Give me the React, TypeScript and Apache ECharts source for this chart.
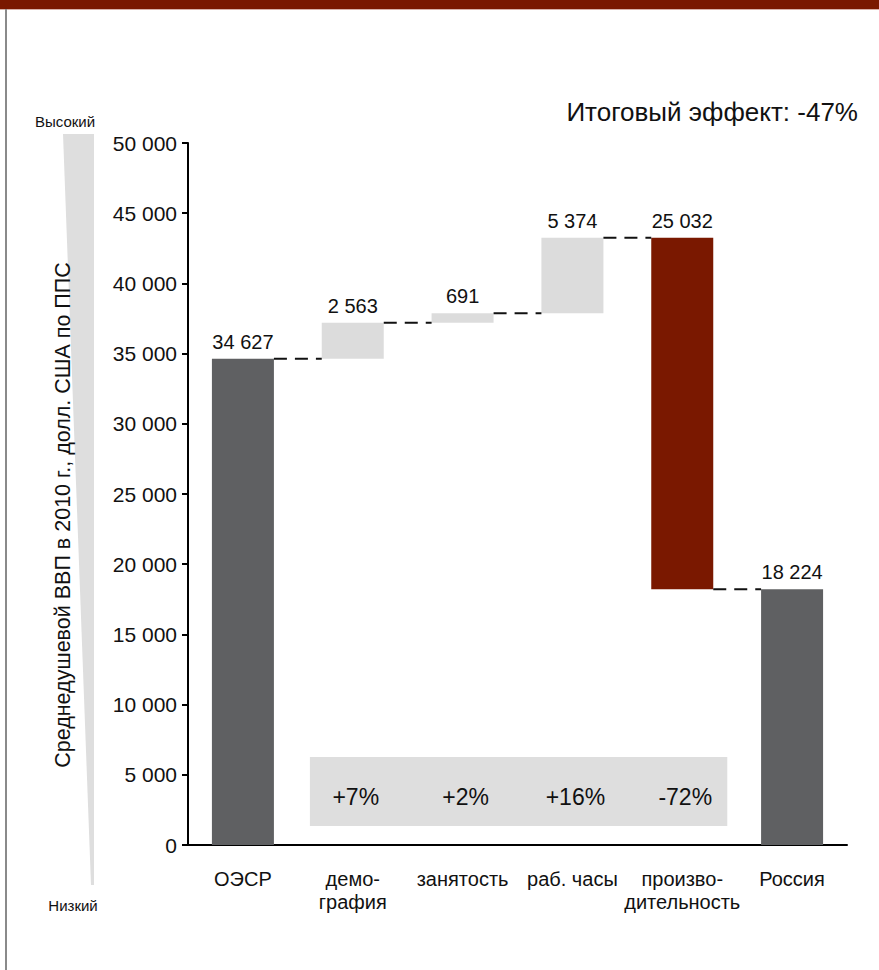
import React, { useEffect, useRef } from "react";
import * as echarts from "echarts";

const categories = ["ОЭСР", "демо-\nграфия", "занятость", "раб. часы", "произво-\nдительность", "Россия"];
const deltas = [34627, 2563, 691, 5374, -25032, 18224];
const kinds = ["total", "up", "up", "up", "down", "total"];
const percentLabels = ["+7%", "+2%", "+16%", "-72%"];
const percentCats = [1, 2, 3, 4];
const yMin = 0;
const yMax = 50000;
const yStep = 5000;
const totalEffect = "Итоговый эффект: -47%";
const yTitle = "Среднедушевой ВВП в 2010 г., долл. США по ППС";

const RED = "#7a1800";
const DARK = "#5f6062";
const LIGHT = "#dcdcdc";
const FONT = "'Liberation Sans', Arial, sans-serif";

const fmt = (v: number) => String(Math.round(v)).replace(/\B(?=(\d{3})+(?!\d))/g, " ");

export default function App() {
  const ref = useRef<HTMLDivElement>(null);
  useEffect(() => {
    if (!ref.current) return;
    const chart = echarts.init(ref.current, undefined, { renderer: "svg" });

    const bases: number[] = [];
    const heights: number[] = [];
    const levels: number[] = [];
    let running = 0;
    deltas.forEach((d, i) => {
      if (kinds[i] === "total") {
        bases.push(0);
        heights.push(d);
        running = d;
      } else if (d >= 0) {
        bases.push(running);
        heights.push(d);
        running += d;
      } else {
        running += d;
        bases.push(running);
        heights.push(-d);
      }
      levels.push(running);
    });
    const colors = kinds.map((k) => (k === "total" ? DARK : k === "up" ? LIGHT : RED));

    const connectorData = levels.slice(0, levels.length - 1).map((v, i) => [i, v]);
    const percentData = percentCats.map((c, i) => [c, 0, percentLabels[i]]);

    chart.setOption({
      animation: false,
      textStyle: { fontFamily: FONT },
      grid: { left: 188, right: 32, top: 143, bottom: 125, containLabel: false },
      xAxis: {
        type: "category",
        data: categories,
        axisLine: { lineStyle: { color: "#000", width: 2 } },
        axisTick: { show: false },
        axisLabel: { color: "#111", fontSize: 20, margin: 22, lineHeight: 23, interval: 0, fontFamily: FONT },
      },
      yAxis: {
        type: "value",
        min: yMin,
        max: yMax,
        interval: yStep,
        axisLine: { show: true, lineStyle: { color: "#000", width: 2 } },
        axisTick: { show: true, length: 6, lineStyle: { color: "#000", width: 2 } },
        splitLine: { show: false },
        axisLabel: { color: "#111", fontSize: 21, margin: 11, formatter: (v: number) => fmt(v), fontFamily: FONT },
      },
      series: [
        {
          type: "bar",
          stack: "w",
          barWidth: 62,
          data: bases,
          itemStyle: { color: "transparent" },
          silent: true,
        },
        {
          type: "bar",
          stack: "w",
          barWidth: 62,
          data: heights.map((h, i) => ({ value: h, itemStyle: { color: colors[i] } })),
          label: {
            show: true,
            position: "top",
            distance: 7,
            color: "#111",
            fontSize: 20,
            fontFamily: FONT,
            formatter: (p: any) => fmt(Math.abs(deltas[p.dataIndex])),
          },
        },
        {
          type: "custom",
          data: connectorData,
          z: 5,
          renderItem: (params: any, api: any) => {
            const i = api.value(0);
            const v = api.value(1);
            const p = api.coord([i, v]);
            const band = api.size([1, 0])[0];
            const half = 31;
            return {
              type: "line",
              shape: { x1: p[0] + half, y1: p[1], x2: p[0] + band - half, y2: p[1] },
              style: { stroke: "#111", lineWidth: 2, lineDash: [13, 8] },
            };
          },
        },
        {
          type: "custom",
          data: percentData,
          z: 1,
          renderItem: (params: any, api: any) => {
            const c = api.value(0);
            const p = api.coord([c, 0]);
            const band = api.size([1, 0])[0];
            const idx = params.dataIndex;
            const n = percentData.length;
            let left = p[0] - band / 2;
            let right = p[0] + band / 2;
            if (idx === 0) left = p[0] - band * 0.39;
            if (idx === n - 1) right = p[0] + band * 0.41;
            return {
              type: "group",
              children: [
                {
                  type: "rect",
                  shape: { x: left, y: p[1] - 88, width: right - left + (idx === n - 1 ? 0 : 1), height: 69 },
                  style: { fill: "#dedede" },
                },
                {
                  type: "text",
                  x: p[0] + 3,
                  y: p[1] - 48,
                  style: {
                    text: percentData[idx][2],
                    fontSize: 23,
                    fontFamily: FONT,
                    fill: "#111",
                    align: "center",
                    verticalAlign: "middle",
                  },
                },
              ],
            };
          },
        },
      ],
      graphic: [
        { type: "rect", shape: { x: 0, y: 0, width: 879, height: 9 }, style: { fill: RED }, z: 10 },
        { type: "line", shape: { x1: 0, y1: 9.5, x2: 879, y2: 9.5 }, style: { stroke: "#d8b0a8", lineWidth: 1 }, z: 10 },
        { type: "line", shape: { x1: 6, y1: 9, x2: 6, y2: 970 }, style: { stroke: "#8a8a8a", lineWidth: 2 }, z: 10 },
        {
          type: "polygon",
          shape: { points: [[63, 134], [94, 134], [94, 885], [91, 885]] },
          style: { fill: "#dedede" },
          z: 1,
        },
        {
          type: "text",
          x: 65,
          y: 121,
          style: { text: "Высокий", fontSize: 15, fontFamily: FONT, fill: "#111", align: "center", verticalAlign: "middle" },
          z: 10,
        },
        {
          type: "text",
          x: 73,
          y: 905,
          style: { text: "Низкий", fontSize: 15, fontFamily: FONT, fill: "#111", align: "center", verticalAlign: "middle" },
          z: 10,
        },
        {
          type: "text",
          x: 63,
          y: 515,
          rotation: Math.PI / 2,
          style: { text: yTitle, fontSize: 21.5, fontFamily: FONT, fill: "#111", align: "center", verticalAlign: "middle" },
          z: 10,
        },
        {
          type: "text",
          x: 858,
          y: 112,
          style: { text: totalEffect, fontSize: 26, fontFamily: FONT, fill: "#111", align: "right", verticalAlign: "middle" },
          z: 10,
        },
      ],
    });
    return () => chart.dispose();
  }, []);
  return <div ref={ref} style={{ position: "fixed", left: 0, top: 0, width: 879, height: 970, background: "#fff" }} />;
}
